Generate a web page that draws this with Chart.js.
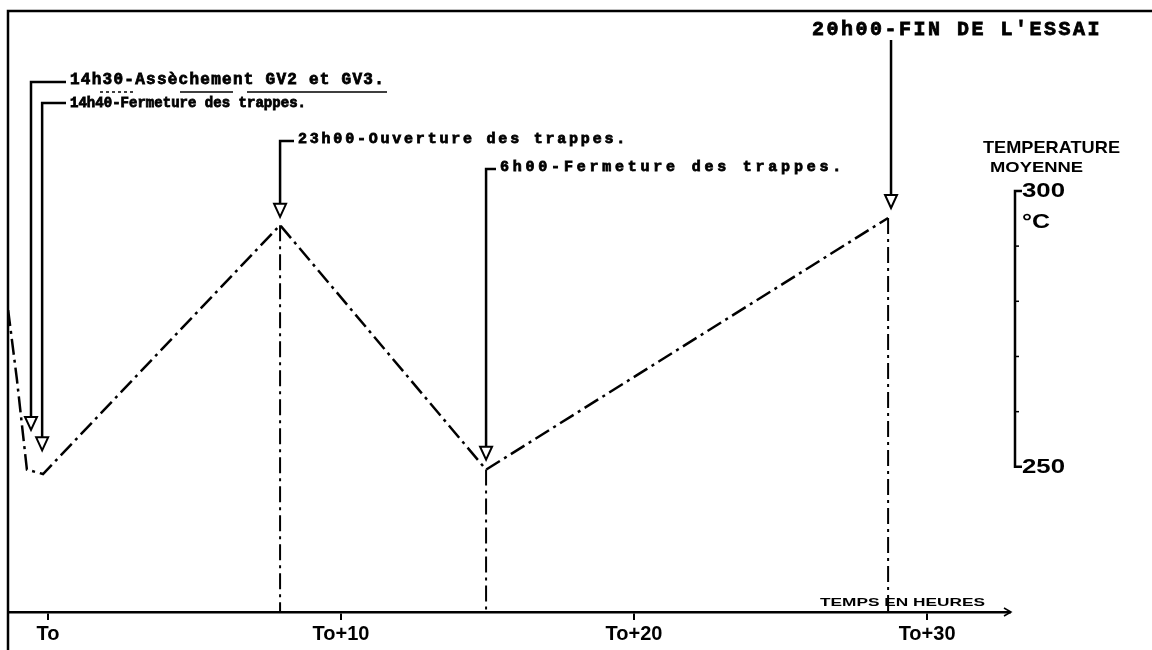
<!DOCTYPE html>
<html>
<head>
<meta charset="utf-8">
<script src="https://cdn.jsdelivr.net/npm/chart.js@4.4.1/dist/chart.umd.min.js"></script>
<style>
  body { margin: 0; background: #fff; }
  #wrap { width: 1152px; height: 650px; position: relative; }
</style>
</head>
<body>
<div id="wrap"><canvas id="essaiChart"></canvas></div>
<script>
// Courbe de température moyenne (heures depuis To, °C)
const pathHours = [-1.36, -1.06, -0.72, -0.17, 7.92, 14.95, 28.67];
const pathTemps = [278.4, 265.8, 249.5, 248.7, 293.8, 249.5, 295.1];

// Verticales descendant vers l'axe des temps
const dropHours = [7.92, 14.95, 28.67];
const dropTemps = [293.8, 249.5, 295.1];

// Axe des temps
const xTickValues = [0, 10, 20, 30];
const xTickLabels = ['To', 'To+10', 'To+20', 'To+30'];

// Échelle de température
const tempTicks = [250, 260, 270, 280, 290, 300];
const tempTickLabels = ['250', '', '', '', '', '300'];

// Événements de l'essai
const eventHours = [-0.58, -0.2, 7.92, 14.95, 28.77];
const eventLabels = [
    '14h30-Assèchement GV2 et GV3.',
    '14h40-Fermeture des trappes.',
    '23h00-Ouverture des trappes.',
    '6h00-Fermeture des trappes.',
    "20h00-FIN DE L'ESSAI"
];

const X_MIN = -1.365, X_MAX = 32.83;
const Y_MIN = 223.7, Y_MAX = 332.6;

// mise en page des annotations (pixels / température de la pointe)
const annotLayout = [
    { labelY: 80,  lineY: 82,  tip: 256.7, textX: 70,  textW: 315, size: 16 },
    { labelY: 103, lineY: 103, tip: 253.0, textX: 70,  textW: 236, size: 14 },
    { labelY: 139, lineY: 141, tip: 295.3, textX: 298, textW: 330, size: 15 },
    { labelY: 167, lineY: 169, tip: 251.3, textX: 500, textW: 345, size: 15 },
    { labelY: 30,  lineY: 40,  tip: 296.9, textX: 812, textW: 290, size: 20, top: true }
];

function typewriter(ctx, text, x, y, width, size) {
    ctx.save();
    ctx.fillStyle = '#000';
    ctx.strokeStyle = '#000';
    ctx.lineWidth = 0.8;
    ctx.font = `bold ${size}px "Liberation Mono", "DejaVu Sans Mono", monospace`;
    ctx.textBaseline = 'middle';
    ctx.textAlign = 'left';
    const pitch = width / text.length;
    for (let i = 0; i < text.length; i++) {
        ctx.fillText(text[i], x + i * pitch, y);
        ctx.strokeText(text[i], x + i * pitch, y);
    }
    ctx.restore();
}

function drawFit(ctx, text, x, y, width, size) {
    ctx.save();
    ctx.fillStyle = '#000';
    ctx.font = `bold ${size}px "Liberation Sans", Arial, sans-serif`;
    ctx.textBaseline = 'middle';
    ctx.textAlign = 'left';
    const w = ctx.measureText(text).width;
    ctx.translate(x, y);
    ctx.scale(width / w, 1);
    ctx.fillText(text, 0, 0);
    ctx.restore();
}

function arrowDown(ctx, x, tipY) {
    ctx.save();
    ctx.beginPath();
    ctx.moveTo(x - 6, tipY - 13);
    ctx.lineTo(x + 6, tipY - 13);
    ctx.lineTo(x, tipY);
    ctx.closePath();
    ctx.fillStyle = '#fff';
    ctx.fill();
    ctx.lineWidth = 2;
    ctx.stroke();
    ctx.restore();
}

const decorPlugin = {
    id: 'decor',
    afterDraw(chart) {
        const ctx = chart.ctx;
        const xs = chart.scales.x, ys = chart.scales.y;
        const area = chart.chartArea;
        ctx.save();
        ctx.strokeStyle = '#000';
        ctx.fillStyle = '#000';
        ctx.setLineDash([]);

        // cadre
        ctx.lineWidth = 2.5;
        ctx.beginPath();
        ctx.moveTo(area.left, 650);
        ctx.lineTo(area.left, area.top);
        ctx.lineTo(1152, area.top);
        ctx.stroke();

        // flèche en bout d'axe des temps
        ctx.beginPath();
        ctx.moveTo(area.right - 6, area.bottom - 4);
        ctx.lineTo(area.right + 1, area.bottom);
        ctx.lineTo(area.right - 6, area.bottom + 4);
        ctx.lineWidth = 1.5;
        ctx.stroke();
        drawFit(ctx, 'TEMPS EN HEURES', 820, 603, 165, 11);

        // échelle de température
        const bx = 1015;
        const yTop = ys.getPixelForValue(300), yBot = ys.getPixelForValue(250);
        ctx.lineWidth = 2.5;
        ctx.beginPath();
        ctx.moveTo(bx + 7, yTop);
        ctx.lineTo(bx, yTop);
        ctx.lineTo(bx, yBot);
        ctx.lineTo(bx + 7, yBot);
        ctx.stroke();
        ctx.lineWidth = 1.5;
        tempTicks.forEach((t, i) => {
            const y = ys.getPixelForValue(t);
            if (tempTickLabels[i]) {
                drawFit(ctx, tempTickLabels[i], bx + 7, y + 1, 43, 20);
            } else {
                ctx.beginPath();
                ctx.moveTo(bx, y);
                ctx.lineTo(bx + 4, y);
                ctx.stroke();
            }
        });
        drawFit(ctx, '°C', bx + 7, yTop + 32, 28, 20);
        drawFit(ctx, 'TEMPERATURE', 983, 148, 137, 17);
        drawFit(ctx, 'MOYENNE', 990, 168, 93, 15);

        // annotations
        eventHours.forEach((h, i) => {
            const L = annotLayout[i];
            const x = xs.getPixelForValue(h);
            const tipY = ys.getPixelForValue(L.tip);
            ctx.lineWidth = 2.5;
            ctx.beginPath();
            if (L.top) {
                ctx.moveTo(x, L.lineY);
            } else {
                ctx.moveTo(L.textX - 4, L.lineY);
                ctx.lineTo(x, L.lineY);
            }
            ctx.lineTo(x, tipY - 12);
            ctx.stroke();
            arrowDown(ctx, x, tipY);
            typewriter(ctx, eventLabels[i], L.textX, L.labelY, L.textW, L.size);
        });

        // soulignements
        ctx.lineWidth = 1.5;
        ctx.beginPath();
        ctx.moveTo(180, 92); ctx.lineTo(233, 92);
        ctx.moveTo(247, 92); ctx.lineTo(387, 92);
        ctx.stroke();
        ctx.setLineDash([3, 3]);
        ctx.beginPath();
        ctx.moveTo(100, 92); ctx.lineTo(134, 92);
        ctx.stroke();
        ctx.restore();
    }
};

const dashDot = [16, 5, 3, 5];

const datasets = [{
    label: 'Température moyenne',
    data: pathHours.map((h, i) => ({ x: h, y: pathTemps[i] })),
    borderColor: '#000',
    borderWidth: 2.5,
    borderDash: dashDot,
    pointRadius: 0,
    tension: 0
}];
dropHours.forEach((h, i) => {
    datasets.push({
        label: 'verticale ' + i,
        data: [{ x: h, y: dropTemps[i] }, { x: h, y: Y_MIN }],
        borderColor: '#000',
        borderWidth: 2,
        borderDash: dashDot,
        pointRadius: 0
    });
});

const ctx = document.getElementById('essaiChart');
new Chart(ctx, {
    type: 'line',
    data: { datasets: datasets },
    options: {
        responsive: true,
        maintainAspectRatio: false,
        animation: false,
        layout: { padding: { left: 8, right: 142, top: 11, bottom: 0 } },
        plugins: { legend: { display: false }, tooltip: { enabled: false } },
        scales: {
            x: {
                type: 'linear',
                min: X_MIN,
                max: X_MAX,
                afterFit: (scale) => { scale.height = 38; },
                afterBuildTicks: (scale) => { scale.ticks = xTickValues.map(v => ({ value: v })); },
                border: { display: true, color: '#000', width: 2.5 },
                grid: { drawOnChartArea: false, drawTicks: true, tickLength: 8, color: '#000', lineWidth: 2 },
                ticks: {
                    color: '#000',
                    padding: 2,
                    maxRotation: 0,
                    font: { family: '"Liberation Sans", Arial, sans-serif', size: 20, weight: 'bold' },
                    callback: (value) => {
                        const i = xTickValues.indexOf(value);
                        return i >= 0 ? xTickLabels[i] : '';
                    }
                }
            },
            y: {
                display: false,
                min: Y_MIN,
                max: Y_MAX
            }
        }
    },
    plugins: [decorPlugin]
});
</script>
</body>
</html>
